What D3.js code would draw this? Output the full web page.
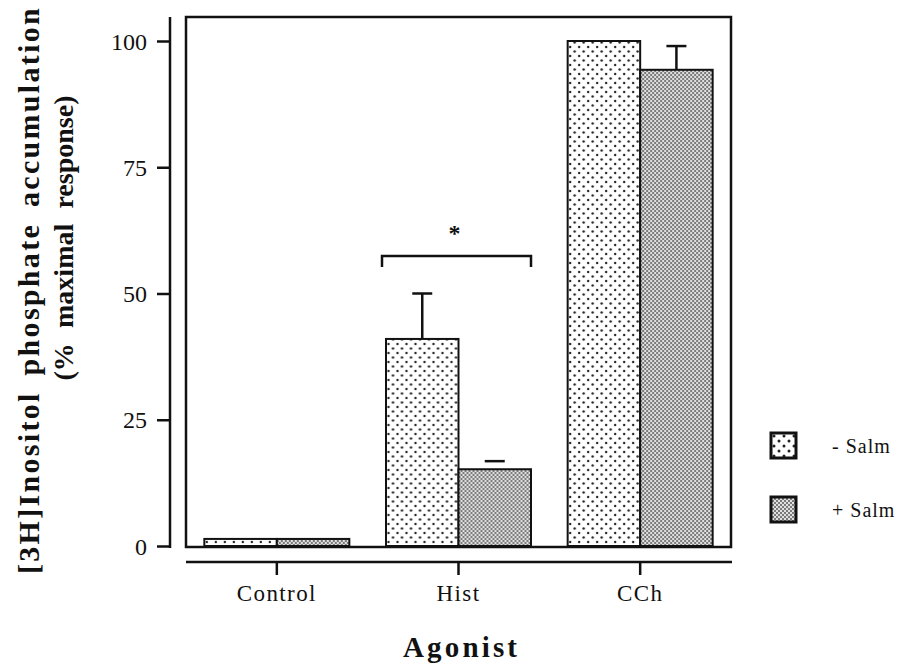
<!DOCTYPE html>
<html>
<head>
<meta charset="utf-8">
<script src="https://cdn.jsdelivr.net/npm/d3@7"></script>
<style>
  html, body { margin: 0; padding: 0; background: #fff; }
  svg { display: block; }
</style>
</head>
<body>
<svg id="chart" width="904" height="667"></svg>
<script>
// Agonist-stimulated [3H]inositol phosphate accumulation, with and without salmeterol
const categories = ["Control", "Hist", "CCh"];
const seriesNames = ["- Salm", "+ Salm"];
const minusSalm = [1.4, 41, 100];
const plusSalm = [1.4, 15.2, 94.3];
const minusSalmErr = [0, 9, 0];
const plusSalmErr = [0, 1.6, 4.7];
const yTicks = [0, 25, 50, 75, 100];

const SERIF = "'Liberation Serif', 'Times New Roman', Tinos, 'Nimbus Roman', 'DejaVu Serif', 'Noto Serif', serif";
const INK = "#111";

const svg = d3.select("#chart").attr("font-family", SERIF);
const defs = svg.append("defs");

// sparse staggered dots (- Salm)
const pSparse = defs.append("pattern")
  .attr("id", "sparse").attr("patternUnits", "userSpaceOnUse")
  .attr("width", 9).attr("height", 9);
pSparse.append("rect").attr("width", 9).attr("height", 9).attr("fill", "#fff");
pSparse.append("circle").attr("cx", 2).attr("cy", 2).attr("r", 1.2).attr("fill", "#222");
pSparse.append("circle").attr("cx", 6.5).attr("cy", 6.5).attr("r", 1.2).attr("fill", "#222");

// fine dense stipple (+ Salm)
const pDense = defs.append("pattern")
  .attr("id", "dense").attr("patternUnits", "userSpaceOnUse")
  .attr("width", 4).attr("height", 4);
pDense.append("rect").attr("width", 4).attr("height", 4).attr("fill", "#e0e0e0");
pDense.append("circle").attr("cx", 1).attr("cy", 1).attr("r", 0.9).attr("fill", "#4a4a4a");
pDense.append("circle").attr("cx", 3).attr("cy", 3).attr("r", 0.9).attr("fill", "#4a4a4a");

// larger dots for the legend swatch
const pLegend = defs.append("pattern")
  .attr("id", "sparseBig").attr("patternUnits", "userSpaceOnUse")
  .attr("x", 771).attr("y", 433)
  .attr("width", 10).attr("height", 10);
pLegend.append("rect").attr("width", 10).attr("height", 10).attr("fill", "#fff");
pLegend.append("circle").attr("cx", 3).attr("cy", 3).attr("r", 1.5).attr("fill", "#222");
pLegend.append("circle").attr("cx", 8).attr("cy", 8).attr("r", 1.5).attr("fill", "#222");

const fills = ["url(#sparse)", "url(#dense)"];

// plot frame
const frame = { left: 186, right: 731, top: 17, bottom: 547 };

const y = d3.scaleLinear().domain([0, 100]).range([546, 41]);
const x = d3.scaleBand().domain(categories).range([frame.left, frame.right]).padding(0);
const sub = d3.scaleBand().domain(seriesNames).range([-72.5, 72.5]).padding(0);

// frame box
svg.append("rect")
  .attr("x", frame.left).attr("y", frame.top)
  .attr("width", frame.right - frame.left).attr("height", frame.bottom - frame.top)
  .attr("fill", "none").attr("stroke", INK).attr("stroke-width", 2.5);

// bars
const groups = svg.selectAll("g.cat").data(categories).enter().append("g")
  .attr("class", "cat")
  .attr("transform", d => `translate(${x(d) + x.bandwidth() / 2},0)`);

const seriesVals = [minusSalm, plusSalm];
const seriesErr = [minusSalmErr, plusSalmErr];

groups.each(function (cat, ci) {
  const g = d3.select(this);
  seriesNames.forEach((s, si) => {
    const v = seriesVals[si][ci];
    g.append("rect")
      .attr("x", sub(s)).attr("width", sub.bandwidth())
      .attr("y", y(v)).attr("height", y(0) - y(v))
      .attr("fill", fills[si]).attr("stroke", INK).attr("stroke-width", 2);
    const e = seriesErr[si][ci];
    if (e > 0) {
      const cx = sub(s) + sub.bandwidth() / 2;
      // very short error bars show the cap only
      if (e >= 2) {
        g.append("line").attr("x1", cx).attr("x2", cx)
          .attr("y1", y(v)).attr("y2", y(v + e))
          .attr("stroke", INK).attr("stroke-width", 2.5);
      }
      g.append("line").attr("x1", cx - 10).attr("x2", cx + 10)
        .attr("y1", y(v + e)).attr("y2", y(v + e))
        .attr("stroke", INK).attr("stroke-width", 2.5);
    }
  });
});

// significance bracket between Hist bars
const hx = x("Hist") + x.bandwidth() / 2;
const bx0 = hx + sub("- Salm") - 4, bx1 = hx + sub("+ Salm") + sub.bandwidth();
const by = 256;
svg.append("path")
  .attr("d", `M${bx0},${by + 11}V${by}H${bx1}V${by + 11}`)
  .attr("fill", "none").attr("stroke", INK).attr("stroke-width", 2.5);
svg.append("text").attr("x", (bx0 + bx1) / 2 - 2).attr("y", 241)
  .attr("text-anchor", "middle").attr("font-size", 24).attr("font-weight", "bold")
  .attr("fill", INK).text("*");

// y axis (detached from frame)
const yAxis = svg.append("g").attr("transform", "translate(170,0)")
  .call(d3.axisLeft(y).tickValues(yTicks).tickSize(13).tickPadding(10).tickFormat(d3.format("d")));
yAxis.attr("font-family", SERIF);
yAxis.select(".domain").remove();
yAxis.selectAll(".tick line").attr("stroke", INK).attr("stroke-width", 2.5);
yAxis.selectAll(".tick text").attr("font-size", 24).attr("fill", INK).attr("dy", "0.34em");
svg.append("line").attr("x1", 170).attr("x2", 170).attr("y1", 17).attr("y2", 548)
  .attr("stroke", INK).attr("stroke-width", 2.5);

// x axis (detached from frame)
const xAxis = svg.append("g").attr("transform", "translate(0,562)")
  .call(d3.axisBottom(x).tickSize(13).tickPadding(10));
xAxis.attr("font-family", SERIF);
xAxis.select(".domain").remove();
xAxis.selectAll(".tick line").attr("stroke", INK).attr("stroke-width", 2.5);
xAxis.selectAll(".tick text").attr("font-size", 23).attr("fill", INK)
  .attr("letter-spacing", 1.4);
svg.append("line").attr("x1", frame.left).attr("x2", frame.right + 1).attr("y1", 562).attr("y2", 562)
  .attr("stroke", INK).attr("stroke-width", 2.5);

// axis titles
svg.append("text").attr("x", 460).attr("y", 657)
  .attr("text-anchor", "middle").attr("font-size", 29).attr("font-weight", "bold")
  .attr("fill", INK).attr("textLength", 114).attr("lengthAdjust", "spacing")
  .text("Agonist");

// fit a line to the wanted length: widen word gaps if short, tighten letters if long
function fitLine(sel, target) {
  const node = sel.node();
  const natural = node.getComputedTextLength();
  const gaps = (sel.text().match(/ /g) || []).length;
  if (gaps > 0 && natural < target) sel.attr("word-spacing", (target - natural) / gaps);
  else if (natural > target) sel.attr("textLength", target).attr("lengthAdjust", "spacing");
}

const yTitle1 = svg.append("text")
  .attr("transform", "translate(39,290) rotate(-90)")
  .attr("text-anchor", "middle").attr("font-size", 30).attr("font-weight", "bold")
  .attr("letter-spacing", 2.3)
  .attr("fill", INK).text("[3H]Inositol phosphate accumulation");
fitLine(yTitle1, 568);
const yTitle2 = svg.append("text")
  .attr("transform", "translate(73,238) rotate(-90)")
  .attr("text-anchor", "middle").attr("font-size", 28).attr("font-weight", "bold")
  .attr("fill", INK).text("(% maximal response)");
fitLine(yTitle2, 285);

// legend
const legendFills = ["url(#sparseBig)", "url(#dense)"];
const legendY = [433, 497];
seriesNames.forEach((s, i) => {
  svg.append("rect").attr("x", 771).attr("y", legendY[i]).attr("width", 25).attr("height", 25)
    .attr("fill", legendFills[i]).attr("stroke", INK).attr("stroke-width", 3);
  svg.append("text").attr("x", 832).attr("y", legendY[i] + 20)
    .attr("font-size", 20).attr("letter-spacing", 1).attr("fill", INK).text(s);
});
</script>
</body>
</html>
